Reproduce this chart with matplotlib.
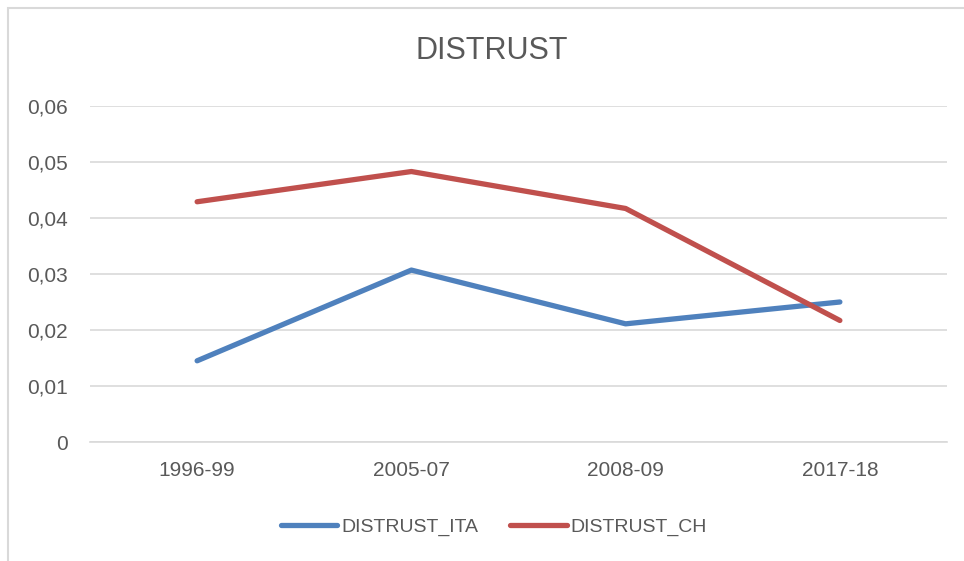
import matplotlib
matplotlib.use("Agg")
import matplotlib.pyplot as plt
from matplotlib.patches import Rectangle
from matplotlib.ticker import FuncFormatter

categories = ["1996-99", "2005-07", "2008-09", "2017-18"]
distrust_ita = [0.0145, 0.0307, 0.0211, 0.0250]
distrust_ch = [0.0429, 0.0483, 0.0417, 0.0217]
yticks = [0, 0.01, 0.02, 0.03, 0.04, 0.05, 0.06]

plt.rcParams['font.family'] = ['Liberation Sans', 'DejaVu Sans']

fig = plt.figure(figsize=(9.64, 5.61), dpi=100)
fig.patches.append(Rectangle((8/964, -0.1), 2, 1 - 8/561 + 0.1, transform=fig.transFigure,
                             fill=False, edgecolor='#d9d9d9', linewidth=1.5))
ax = fig.add_axes([90/964, 1 - 442/561, (947 - 90)/964, (442 - 106)/561])
x = list(range(len(categories)))
ax.plot(x, distrust_ita, color='#4F81BD', linewidth=3.8, solid_capstyle='round', label='DISTRUST_ITA', zorder=3)
ax.plot(x, distrust_ch, color='#C0504D', linewidth=3.8, solid_capstyle='round', label='DISTRUST_CH', zorder=3)
ax.set_xlim(-0.5, 3.5)
ax.set_ylim(0, 0.06)
ax.set_yticks(yticks)
ax.yaxis.set_major_formatter(FuncFormatter(lambda v, p: '0' if v == 0 else f"{v:.2f}".replace('.', ',')))
ax.set_xticks(x)
ax.set_xticklabels(categories)
ax.grid(axis='y', color='#d9d9d9', linewidth=1.2)
ax.set_axisbelow(True)
for s in ['top', 'right', 'left']:
    ax.spines[s].set_visible(False)
ax.spines['bottom'].set_color('#d9d9d9')
ax.spines['bottom'].set_linewidth(1.2)
ax.tick_params(axis='both', length=0, labelsize=15, colors='#595959')
ax.tick_params(axis='y', pad=16)
ax.tick_params(axis='x', pad=14)
fig.text(492/964, 1 - 51/561, 'DISTRUST', ha='center', va='center', fontsize=22, color='#595959')
leg = fig.legend(loc='center', bbox_to_anchor=(494/964, 1 - 527/561), ncol=2, frameon=False,
                 fontsize=14, handlelength=2.9, handletextpad=0.2, columnspacing=1.65)
for t in leg.get_texts():
    t.set_color('#595959')
fig.savefig('out.png', dpi=100)
